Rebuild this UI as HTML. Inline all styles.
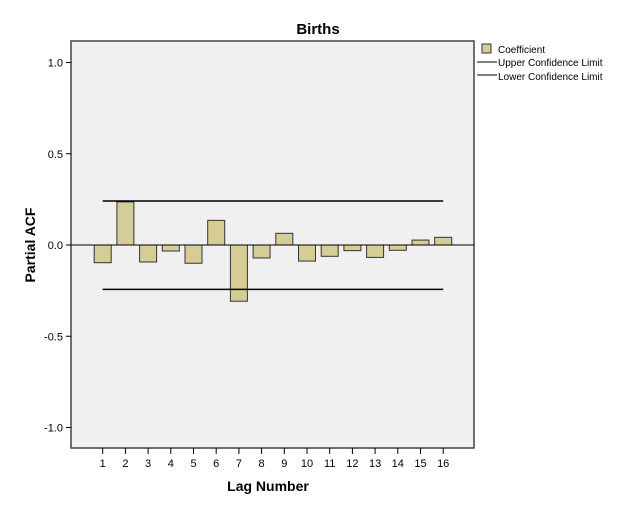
<!DOCTYPE html>
<html><head><meta charset="utf-8"><style>
body{margin:0;background:#fff;}
svg{display:block;font-family:"Liberation Sans",Arial,sans-serif;}
</style></head><body>
<svg id="c" width="626" height="512">
<rect x="71" y="41" width="403" height="407" fill="#f0f0f0" stroke="#444" stroke-width="1.5"/>
<text x="318" y="34" text-anchor="middle" font-size="15" font-weight="bold">Births</text>
<text x="268" y="491" text-anchor="middle" font-size="14" font-weight="bold">Lag Number</text>
<text transform="translate(35,245) rotate(-90)" text-anchor="middle" font-size="14" font-weight="bold">Partial ACF</text>
<g id="axes"></g><g id="marks"></g>
<g font-size="10">
<rect x="482" y="44" width="9" height="9" fill="#d6cd96" stroke="#333"/>
<text x="498" y="53">Coefficient</text>
<line x1="477" y1="62" x2="497" y2="62" stroke="#000"/>
<text x="498" y="66">Upper Confidence Limit</text>
<line x1="477" y1="75" x2="497" y2="75" stroke="#000"/>
<text x="498" y="80">Lower Confidence Limit</text>
</g>
</svg>
<script>
const lags=[1,2,3,4,5,6,7,8,9,10,11,12,13,14,15,16];
const coefficients=[-0.097,0.236,-0.093,-0.033,-0.1,0.135,-0.308,-0.071,0.064,-0.088,-0.062,-0.031,-0.068,-0.029,0.027,0.042];
const upperLimit=0.241;
const lowerLimit=-0.243;
const yTicks=[1.0,0.5,0.0,-0.5,-1.0];
const NS="http://www.w3.org/2000/svg";
const y=v=>245-v*182.5;
const x=l=>102.7+(l-1)*22.7;
function mk(t,a,p){const e=document.createElementNS(NS,t);for(const k in a)e.setAttribute(k,a[k]);p.appendChild(e);return e;}
const ax=document.getElementById('axes'),mg=document.getElementById('marks');
yTicks.forEach(v=>{
 const t=mk('line',{x1:66,x2:71,y1:y(v),y2:y(v),stroke:'#000'},ax);
 
 
 const tx=mk('text',{x:63,y:y(v)+4,'text-anchor':'end','font-size':11},ax);
 tx.textContent=v.toFixed(1);
 
 
});
lags.forEach(l=>{
 const t=mk('line',{x1:x(l),x2:x(l),y1:448,y2:454,stroke:'#000'},ax);
 
 
 const tx=mk('text',{x:x(l),y:467,'text-anchor':'middle','font-size':11},ax);
 tx.textContent=l;
 
 
});
lags.forEach((l,i)=>{
 const v=coefficients[i];
 const r=mk('rect',{x:x(l)-8.5,y:Math.min(y(v),y(0)),width:17,height:Math.abs(y(v)-y(0)),fill:'#d6cd96',stroke:'#333'},mg);
 
 
});
const z=mk('line',{x1:71,x2:474,y1:y(0),y2:y(0),stroke:'#000'},mg);


const u=mk('line',{x1:x(lags[0]),x2:x(lags[lags.length-1]),y1:y(upperLimit),y2:y(upperLimit),stroke:'#000','stroke-width':1.5},mg);


const lo=mk('line',{x1:x(lags[0]),x2:x(lags[lags.length-1]),y1:y(lowerLimit),y2:y(lowerLimit),stroke:'#000','stroke-width':1.5},mg);


</script>
</body></html>
